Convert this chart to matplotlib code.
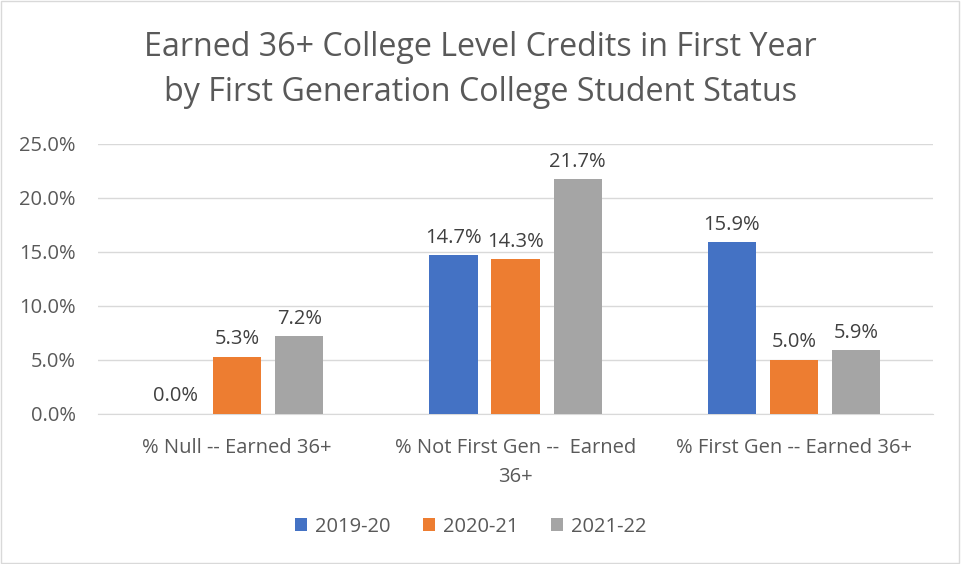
import numpy as np
import matplotlib.pyplot as plt

categories = ["% Null -- Earned 36+", "% Not First Gen --  Earned\n36+", "% First Gen -- Earned 36+"]
years = ["2019-20", "2020-21", "2021-22"]
values = [
    [0.0, 14.7, 15.9],
    [5.3, 14.3, 5.0],
    [7.2, 21.7, 5.9],
]
colors = ["#4472C4", "#ED7D31", "#A5A5A5"]

plt.rcParams['font.family'] = ['Open Sans', 'DejaVu Sans']

fig = plt.figure(figsize=(9.61, 5.64), dpi=100)
ax = fig.add_axes([0.102, 0.266, 0.869, 0.479])

x = np.arange(len(categories))
width = 0.173
step = 0.223
for i, (yr, vals, c) in enumerate(zip(years, values, colors)):
    pos = x + (i - 1) * step
    ax.bar(pos, vals, width, color=c, label=yr, zorder=3)
    for p, v in zip(pos, vals):
        ax.text(p, v + 0.7, f"{v:.1f}%", ha='center', va='bottom',
                fontsize=14.5, color='#404040')

ax.set_xlim(-0.5, 2.5)
ax.set_ylim(0, 25)
ax.set_yticks(np.arange(0, 26, 5))
ax.set_yticklabels([f"{t:.1f}%" for t in np.arange(0, 26, 5)])
ax.set_xticks(x)
ax.set_xticklabels(categories, linespacing=1.6)
ax.tick_params(axis='both', length=0, labelsize=14.5, colors='#595959')
ax.tick_params(axis='x', pad=17)
ax.tick_params(axis='y', pad=16)
ax.grid(axis='y', color='#D9D9D9', linewidth=1, zorder=0)
for s in ['top', 'right', 'left']:
    ax.spines[s].set_visible(False)
ax.spines['bottom'].set_color('#D9D9D9')

fig.text(0.5, 0.876, "Earned 36+ College Level Credits in First Year\nby First Generation College Student Status",
         ha='center', va='center', fontsize=23.2, color='#595959', linespacing=1.5)

fig.legend(loc='center', bbox_to_anchor=(0.49, 0.066), ncol=3, frameon=False,
           fontsize=14.5, handlelength=0.6, handleheight=0.6, columnspacing=1.6,
           handletextpad=0.4, labelcolor='#595959')

fig.patches.append(plt.Rectangle((0.001, 0.002), 0.997, 0.996, transform=fig.transFigure,
                                 fill=False, edgecolor='#D9D9D9', linewidth=1))

fig.savefig("out.png", dpi=100)
